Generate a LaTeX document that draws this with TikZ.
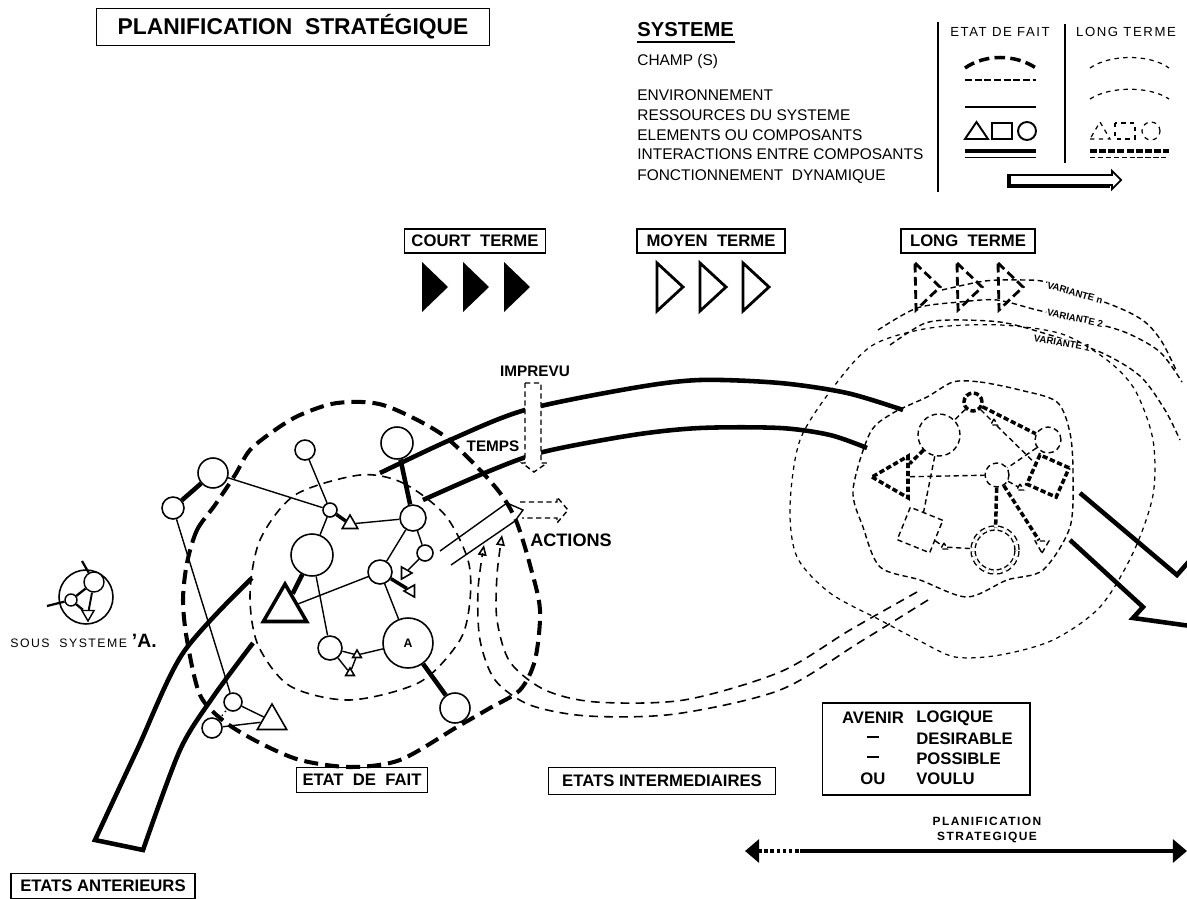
\documentclass[tikz,border=0pt]{standalone}
\usepackage{fontspec}
\setmainfont{Liberation Sans}
\newfontfamily\spacedfont[LetterSpace=12]{Liberation Sans}
\usetikzlibrary{arrows.meta, shapes.geometric, calc}

\tikzset{
  el/.style={circle, draw, fill=white, line width=0.9pt, inner sep=0pt, minimum size=#1*0.04cm},
  tri/.style={regular polygon, regular polygon sides=3, draw, fill=white, line width=0.9pt, inner sep=0pt, minimum size=#1*0.04cm},
  ltel/.style={circle, draw, line width=0.8pt, dash pattern=on 3pt off 2pt, inner sep=0pt, minimum size=#1*0.04cm},
  lttri/.style={regular polygon, regular polygon sides=3, draw, line width=0.8pt, dash pattern=on 3pt off 2pt, inner sep=0pt, minimum size=#1*0.04cm},
  thinlink/.style={line width=0.8pt},
  thicklink/.style={line width=2.6pt},
  ltlink/.style={line width=0.8pt, dash pattern=on 3pt off 2pt},
  ltthick/.style={line width=2pt, dash pattern=on 3pt off 1.5pt},
  champ/.style={line width=2.3pt, dash pattern=on 8pt off 4pt},
  envline/.style={line width=0.9pt, dash pattern=on 5pt off 3.5pt},
  dotline/.style={line width=0.7pt, dash pattern=on 2.5pt off 2.5pt},
  band/.style={line width=2.6pt},
  termbox/.style={draw, line width=0.8pt, inner sep=0pt, font=\bfseries\fontsize{9.5}{11}\selectfont},
}
\newcommand{\avdash}{\rule[2.6pt]{6.5pt}{0.9pt}}

\begin{document}
\begin{tikzpicture}[x=0.02cm, y=-0.02cm, >=Stealth]
\useasboundingbox (0,0) rectangle (1187,899);
\clip (0,0) rectangle (1187,899);

% --- Titre
\node[draw, line width=1pt, minimum width=7.86cm, minimum height=0.74cm,
  font=\bfseries\fontsize{13}{15}\selectfont] (title) at (293,27) {PLANIFICATION\ \ STRATÉGIQUE};

% --- Legende systeme
\node[anchor=base west, inner sep=0pt, font=\bfseries\fontsize{11.5}{13}\selectfont] (sys) at (637,36) {SYSTEME};
\draw[line width=1.4pt] (637,42) -- (735,42);
\foreach \txt/\yy in {CHAMP (S)/65, ENVIRONNEMENT/100, RESSOURCES DU SYSTEME/120,
    ELEMENTS OU COMPOSANTS/140, INTERACTIONS ENTRE COMPOSANTS/159, FONCTIONNEMENT\ \ DYNAMIQUE/180}
  \node[anchor=base west, inner sep=0pt, font=\fontsize{8.8}{10}\selectfont] (leg\yy) at (637,\yy) {\txt};

\draw[line width=0.9pt] (938,22) -- (938,192);
\draw[line width=0.9pt] (1065,24) -- (1065,163);
\node[font=\spacedfont\fontsize{7.5}{9}\selectfont] (hdfait) at (1000,32) {ETAT DE FAIT};
\node[font=\spacedfont\fontsize{7.5}{9}\selectfont] (hdlong) at (1126,32) {LONG TERME};

% colonne etat de fait
\draw[line width=2pt, dash pattern=on 6pt off 3pt] (965,68) .. controls (985,54) and (1015,54) .. (1036,68);
\draw[line width=1.6pt, dash pattern=on 4pt off 1.5pt] (965,80) -- (1036,80);
\draw[line width=1pt] (965,107) -- (1036,107);
\draw[line width=1.1pt] (965,139) -- (988,139) -- (976.5,122) -- cycle;
\draw[line width=1.1pt] (992,123) rectangle (1012,139);
\draw[line width=1.1pt] (1027,131) circle[radius=0.18cm];
\draw[line width=2.6pt] (965,151) -- (1036,151);
\draw[line width=0.9pt] (965,157.5) -- (1036,157.5);
% colonne long terme
\draw[dotline] (1090,68) .. controls (1110,54) and (1150,54) .. (1169,68);
\draw[dotline] (1090,99) .. controls (1110,86) and (1150,86) .. (1169,99);
\draw[dotline] (1090,139) -- (1110,139) -- (1100,122) -- cycle;
\draw[dotline] (1115,123) rectangle (1135,139);
\draw[dotline] (1151,131) circle[radius=0.18cm];
\draw[line width=2.2pt, dash pattern=on 4pt off 1.2pt] (1090,151) -- (1169,151);
\draw[line width=0.8pt, dash pattern=on 3pt off 1.5pt] (1090,157.5) -- (1169,157.5);
% fonctionnement dynamique
\draw[line width=1pt] (1008,175) -- (1112,175) -- (1112,171) -- (1121,180) -- (1112,189) -- (1112,185) -- (1008,185) -- cycle;
\draw[line width=2.4pt] (1009,174) -- (1009,186) -- (1110,186);

% --- Termes
\node[termbox, minimum width=2.82cm, minimum height=0.48cm] (court) at (475,241) {COURT\ \ TERME};
\node[termbox, minimum width=2.96cm, minimum height=0.48cm] (moyen) at (711,241) {MOYEN\ \ TERME};
\node[termbox, minimum width=2.68cm, minimum height=0.48cm] (long) at (968,241) {LONG\ \ TERME};
\foreach \xx in {422,463,504}
  \fill (\xx,262) -- (\xx+26,287) -- (\xx,312) -- cycle;
\foreach \xx in {657,700,743}
  \draw[line width=1.6pt] (\xx,263) -- (\xx+26,287) -- (\xx,311) -- cycle;
\foreach \xx in {915,957,998}
  \draw[line width=1.6pt, dash pattern=on 5pt off 2.5pt] (\xx,263) -- (\xx+25,287) -- (\xx+1,310) -- cycle;

% --- Variantes
\draw[ltlink] plot[smooth] coordinates {(942,290) (985,281) (1023,280) (1050,283) (1117,307) (1145,322) (1162,342) (1177,372)};
\draw[ltlink] plot[smooth] coordinates {(878,330) (917,308) (960,302) (997,300) (1037,310) (1090,322) (1127,333) (1160,352) (1182,382)};
\draw[ltlink] plot[smooth] coordinates {(890,345) (923,324) (950,320) (1000,322) (1040,332) (1100,352) (1140,376) (1165,410) (1180,440)};
\node[rotate=-16, fill=white, inner sep=0.5pt, font=\bfseries\fontsize{5.5}{6}\selectfont] (varn) at (1075,293) {VARIANTE n};
\node[rotate=-12, fill=white, inner sep=0.5pt, font=\bfseries\fontsize{5.5}{6}\selectfont] (var2) at (1075,318) {VARIANTE 2};
\node[rotate=-10, fill=white, inner sep=0.5pt, font=\bfseries\fontsize{5.5}{6}\selectfont] (var1) at (1062,343) {VARIANTE 1};

% --- Systeme long terme
\draw[dotline] plot[smooth cycle] coordinates {(873,345) (930,328) (1000,325) (1062,334) (1107,360) (1135,390)
  (1153,440) (1153,495) (1133,553) (1100,607) (1053,640) (1000,655) (955,657) (918,640) (880,620)
  (830,593) (797,557) (790,507) (800,440) (835,385)};
\draw[ltlink] plot[smooth cycle] coordinates {(953,382) (980,382) (1020,390) (1057,402) (1070,433) (1073,473)
  (1070,527) (1043,570) (1007,580) (967,597) (920,580) (880,567) (863,527) (853,490) (870,433) (893,413) (927,397)};

\node[ltel=21] (r2) at (939,435) {};
\node[circle, draw, ltthick, inner sep=0pt, minimum size=0.36cm] (r1) at (973,402) {};
\node[ltel=13] (r3) at (1048,440) {};
\node[lttri=24, ltthick, shape border rotate=90] (r4) at (896,477) {};
\node[ltel=12] (r5) at (997,475) {};
\node[rectangle, draw, ltthick, inner sep=0pt, minimum size=0.64cm, rotate=-24] (r6) at (1048,476) {};
\node[rectangle, draw, ltlink, inner sep=0pt, minimum size=0.70cm, rotate=-22] (r7) at (920,530) {};
\node[ltel=22, double, double distance=1.5pt] (r8) at (995,550) {};
\node[lttri=8, shape border rotate=180] (r9) at (1042,545) {};
\node[lttri=4] (r10) at (944,547) {};
\node[lttri=4] (r11) at (1020,488) {};
\node[lttri=4] (r12) at (994,423) {};

\draw[ltthick] (r1) -- (r3);
\draw[ltlink] (r1) -- (r2);
\draw[ltlink] (r1) -- (r12) -- (r6);
\draw[ltlink] (r3) -- (r5);
\draw[ltthick] (r2) -- (r4);
\draw[ltlink] (r2) -- (r7);
\draw[ltlink] (r4) -- (r5);
\draw[ltthick] (r5) -- (r8);
\draw[ltthick] (r5) -- (r9);
\draw[ltlink] (r7) -- (r10) -- (r8);
\draw[ltlink] (r5) -- (r11);

% --- Bande du temps
\draw[band] plot[smooth] coordinates {(252,578) (183,653) (137,750) (95,840)} -- (143,850)
  -- plot[smooth] coordinates {(143,850) (180,750) (213,697) (253,643)};
\draw[band] plot[smooth] coordinates {(380,473) (450,440) (525,410) (633,388) (700,380) (780,383) (847,393) (903,410)};
\draw[band] plot[smooth] coordinates {(423,500) (487,472) (543,452) (633,435) (700,428) (780,428) (830,435) (867,448)};
\draw[band, line join=miter] (1080,493) -- (1177,575) -- (1192,558) -- (1205,628) -- (1133,618) -- (1143,607) -- (1070,540);
\node[font=\bfseries\fontsize{8.7}{10}\selectfont, inner sep=1pt] (temps) at (493,446) {TEMPS};

% --- Systeme etat de fait
\draw[champ] plot[smooth cycle] coordinates {(187,563) (197,530) (215,505) (235,475) (250,450) (275,430)
  (300,415) (337,403) (383,405) (440,433) (480,470) (503,497) (517,523) (530,565) (540,610) (535,660)
  (520,690) (490,708) (457,727) (400,760) (350,767) (300,760) (260,743) (225,722) (200,695) (187,640) (183,600)};
\draw[envline] plot[smooth cycle] coordinates {(360,475) (403,483) (445,515) (468,560) (470,600) (460,640)
  (420,682) (350,700) (290,686) (258,645) (250,595) (260,540) (295,495)};

\node[el=16] (c1) at (397,443) {};
\node[el=10] (c2) at (305,450) {};
\node[el=15] (c3) at (213,473) {};
\node[el=11] (c4) at (173,508) {};
\node[el=7] (c5) at (330,510) {};
\node[tri=9] (t1) at (350,524) {};
\node[el=13] (c6) at (413,518) {};
\node[el=8] (c7) at (425,553) {};
\node[el=21] (c8) at (312,555) {};
\node[el=12] (c9) at (380,572) {};
\node[tri=7, shape border rotate=30] (t2) at (405,573) {};
\node[tri=7, shape border rotate=-30] (t3) at (411,591) {};
\node[tri=25, line width=2pt] (t4) at (285,609) {};
\node[el=12] (c10) at (330,648) {};
\node[el=25, font=\bfseries\fontsize{7}{8}\selectfont] (ca) at (408,643) {A};
\node[tri=5] (t5) at (357,655) {};
\node[tri=5] (t6) at (350,673) {};
\node[el=15] (c11) at (455,708) {};
\node[el=9] (c12) at (233,702) {};
\node[el=10] (c13) at (212,728) {};
\node[tri=17] (t7) at (272,721) {};

\draw[thicklink] (c4) -- (c3);
\draw[thicklink] (c1) -- (c6);
\draw[thicklink] (c8) -- (t4);
\draw[thicklink] (ca) -- (c11);
\draw[line width=2pt] (c5) -- (t1);
\draw[line width=2pt] (c9) -- (t3);
\draw[thinlink] (c3) -- (c5);
\draw[thinlink] (c2) -- (c5);
\draw[thinlink] (t1) -- (c6);
\draw[thinlink] (c5) -- (c8);
\draw[thinlink] (c6) -- (c9);
\draw[thinlink] (c6) -- (c7);
\draw[thinlink] (c7) -- (t2);
\draw[thinlink] (c9) -- (t4);
\draw[thinlink] (c8) -- (c10);
\draw[thinlink] (c9) -- (ca);
\draw[thinlink] (c10) -- (t5) -- (ca);
\draw[thinlink] (c10) -- (t6) -- (t5);
\draw[thinlink] (c4) -- (c12);
\draw[thinlink] (c12) -- (t7);
\draw[thinlink] (c13) -- (t7);
\draw[thinlink, dotted] (c13) -- (c12);

% --- Imprevu et actions
\node[font=\bfseries\fontsize{8.7}{10}\selectfont] (imprevu) at (535,371) {IMPREVU};
\draw[envline, line width=0.8pt, dash pattern=on 3pt off 2pt, fill=white]
  (525,383) -- (541,383) -- (541,463) -- (547,463) -- (534,472) -- (522,463) -- (525,463) -- cycle;
\draw[thinlink] (440,551) -- (507,503) -- (523,510) -- (515,521) -- (451,565);
\draw[envline, line width=0.8pt, dash pattern=on 3pt off 2pt]
  (520,502) -- (557,502) -- (557,497) -- (568,510) -- (557,523) -- (557,518) -- (522,518);
\node[font=\bfseries\fontsize{10.3}{12}\selectfont] (actions) at (571,540) {ACTIONS};

% --- Boucle des etats intermediaires
\draw[envline, -{Triangle[open, length=6pt, width=5pt]}] plot[smooth] coordinates {(917,592) (850,630) (780,672)
  (684,700) (596,702) (545,690) (510,662) (497,620) (497,575) (502,535)};
\draw[envline, -{Triangle[open, length=6pt, width=5pt]}] plot[smooth] coordinates {(928,600) (860,642) (780,690)
  (675,714) (588,716) (530,705) (495,680) (480,640) (478,590) (484,545)};

% --- Sous systeme A
\node[el=27] (ssys) at (86,597) {};
\node[el=10, line width=0.8pt] (ss1) at (94,582) {};
\node[el=6, line width=0.8pt] (ss2) at (71,600) {};
\node[tri=7, line width=0.8pt, shape border rotate=180] (ss3) at (88,614) {};
\draw[line width=1.3pt] (ss2) -- (ss3);
\draw[line width=1.3pt] (ss2) -- (ss1);
\draw[line width=1.1pt] (ss1) -- (ss3);
\coordinate (sstop) at (82,561);
\coordinate (ssleft) at (47,606);
\draw[line width=1.3pt] (sstop) -- (ss1);
\draw[line width=1.3pt] (ssleft) -- (ss2);
\node[anchor=base west, inner sep=0pt, font=\fontsize{7}{8}\selectfont] (sslabel) at (10,647)
  {\spacedfont SOUS\ \ SYSTEME {\normalfont\bfseries\fontsize{11}{12}\selectfont ’A.}};

% --- Etiquettes du bas
\node[termbox, minimum width=2.62cm, minimum height=0.5cm] (etat) at (362,780) {ETAT\ \ DE\ \ FAIT};
\node[termbox, minimum width=3.68cm, minimum height=0.5cm] (anter) at (103,886) {ETATS ANTERIEURS};
\node[termbox, line width=0.6pt, minimum width=4.54cm, minimum height=0.54cm] (inter) at (662,781) {ETATS INTERMEDIAIRES};
\node[draw, line width=0.6pt, minimum width=4.16cm, minimum height=1.84cm] (avenir) at (926,749) {};
\foreach \lft/\rgt/\yy in {AVENIR/LOGIQUE/718, \avdash/DESIRABLE/739, \avdash/POSSIBLE/759, OU/VOULU/779} {
  \node[font=\bfseries\fontsize{9.5}{11}\selectfont] (avl\yy) at (873,\yy) {\lft};
  \node[anchor=west, inner sep=0pt, font=\bfseries\fontsize{9.5}{11}\selectfont] (avr\yy) at (916,\yy) {\rgt};
}

% --- Planification strategique
\node[align=center, font=\spacedfont\bfseries\fontsize{6.8}{9}\selectfont] (plan) at (987,830) {PLANIFICATION\\STRATEGIQUE};
\coordinate (psw) at (745,851);
\coordinate (psm) at (800,851);
\coordinate (pse) at (1187,851);
\draw[line width=2.5pt, dash pattern=on 2pt off 1.5pt, {Triangle[length=8pt, width=13pt]}-] (psw) -- (psm);
\draw[line width=2.8pt, -{Triangle[length=8pt, width=13pt]}] (psm) -- (pse);

\end{tikzpicture}
\end{document}
